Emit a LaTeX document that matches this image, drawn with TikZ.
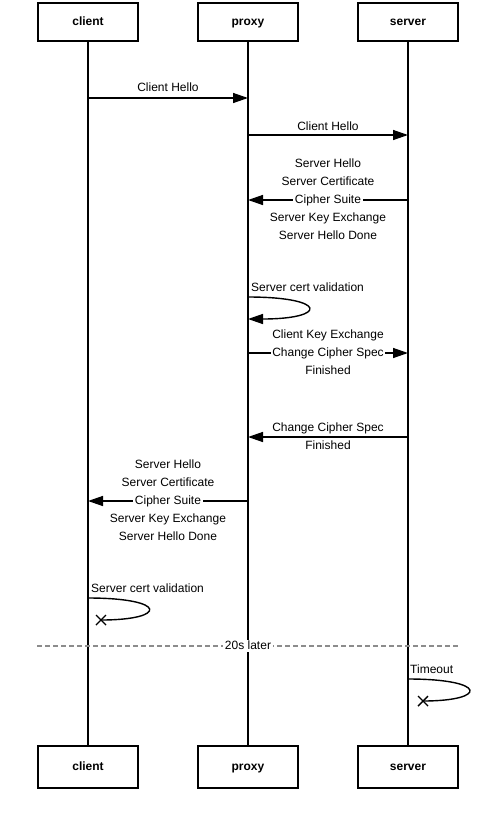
\documentclass[tikz,border=0pt]{standalone}
\usepackage{fontspec}
\setmainfont{Liberation Sans}
\usetikzlibrary{arrows.meta,calc}
\begin{document}
\begin{tikzpicture}[x=1pt,y=-1pt,
  actor/.style={draw=black,line width=1.8pt,minimum width=100pt,inner sep=0pt,font=\fontsize{12}{14}\selectfont\bfseries,text height=8.6pt,text depth=2.5pt},
  lifeline/.style={line width=1.8pt},
  msg/.style={line width=1.4pt,-{Triangle[length=15pt,width=10pt]}},
  loopline/.style={line width=1.4pt},
  lbl/.style={inner sep=0pt,font=\fontsize{12}{18}\selectfont,text height=8.6pt,text depth=2.5pt},
  onlbl/.style={lbl,fill=white,inner xsep=1.5pt},
  xmark/.style={line width=1.4pt}
]
\useasboundingbox (0,0) rectangle (496,817);
% actors
\node[actor,minimum height=38pt] (ct) at (88,22) {client};
\node[actor,minimum height=38pt] (pt) at (248,22) {proxy};
\node[actor,minimum height=38pt] (st) at (408,22) {server};
\node[actor,minimum height=42pt] (cb) at (88,767) {client};
\node[actor,minimum height=42pt] (pb) at (248,767) {proxy};
\node[actor,minimum height=42pt] (sb) at (408,767) {server};
% lifelines
\draw[lifeline] (ct.south) -- (cb.north);
\draw[lifeline] (pt.south) -- (pb.north);
\draw[lifeline] (st.south) -- (sb.north);
% message anchor points
\coordinate (c1) at (88,98);  \coordinate (p1) at (248,98);
\coordinate (p2) at (248,135); \coordinate (s2) at (408,135);
\coordinate (s3) at (408,200); \coordinate (p3) at (248,200);
\coordinate (p4a) at (248,297); \coordinate (p4b) at (248,319);
\coordinate (p5) at (248,353); \coordinate (s5) at (408,353);
\coordinate (s6) at (408,437); \coordinate (p6) at (248,437);
\coordinate (p7) at (248,501); \coordinate (c7) at (88,501);
\coordinate (c8a) at (88,598); \coordinate (x8) at (101,620);
\coordinate (dl) at (37,646); \coordinate (dr) at (458,646);
\coordinate (s9a) at (408,679); \coordinate (x9) at (423,701);
% 1
\draw[msg] (c1) -- (p1);
\node[lbl] (l1) at (168,88) {Client Hello};
% 2
\draw[msg] (p2) -- (s2);
\node[lbl] (l2) at (328,127) {Client Hello};
% 3
\draw[msg] (s3) -- (p3);
\node[lbl] (l3a) at (328,164) {Server Hello};
\node[lbl] (l3b) at (328,182) {Server Certificate};
\node[onlbl] (l3c) at (328,200) {Cipher Suite};
\node[lbl] (l3d) at (328,218) {Server Key Exchange};
\node[lbl] (l3e) at (328,236) {Server Hello Done};
% 4 self loop
\draw[loopline,-{Triangle[length=15pt,width=10pt]}] (p4a) .. controls (328,297) and (328,319) .. (p4b);
\node[lbl,anchor=west] (l4) at (251,288) {Server cert validation};
% 5
\draw[msg] (p5) -- (s5);
\node[lbl] (l5a) at (328,335) {Client Key Exchange};
\node[onlbl] (l5b) at (328,353) {Change Cipher Spec};
\node[lbl] (l5c) at (328,371) {Finished};
% 6
\draw[msg] (s6) -- (p6);
\node[lbl] (l6a) at (328,428) {Change Cipher Spec};
\node[lbl] (l6b) at (328,446) {Finished};
% 7
\draw[msg] (p7) -- (c7);
\node[lbl] (l7a) at (168,465) {Server Hello};
\node[lbl] (l7b) at (168,483) {Server Certificate};
\node[onlbl] (l7c) at (168,501) {Cipher Suite};
\node[lbl] (l7d) at (168,519) {Server Key Exchange};
\node[lbl] (l7e) at (168,537) {Server Hello Done};
% 8 client self loop with cross
\draw[loopline] (c8a) .. controls (168,598) and (168,620) .. (x8);
\draw[xmark] ($(x8)+(-5,-5)$) -- ($(x8)+(5,5)$) ($(x8)+(-5,5)$) -- ($(x8)+(5,-5)$);
\node[lbl,anchor=west] (l8) at (91,589) {Server cert validation};
% divider
\draw[line width=1.4pt,draw=black!45,dash pattern=on 5pt off 3pt] (dl) -- (dr);
\node[onlbl] (l9) at (248,646) {20s later};
% timeout
\draw[loopline] (s9a) .. controls (488,679) and (488,701) .. (x9);
\draw[xmark] ($(x9)+(-5,-5)$) -- ($(x9)+(5,5)$) ($(x9)+(-5,5)$) -- ($(x9)+(5,-5)$);
\node[lbl,anchor=west] (l10) at (410,670) {Timeout};
\end{tikzpicture}
\end{document}
